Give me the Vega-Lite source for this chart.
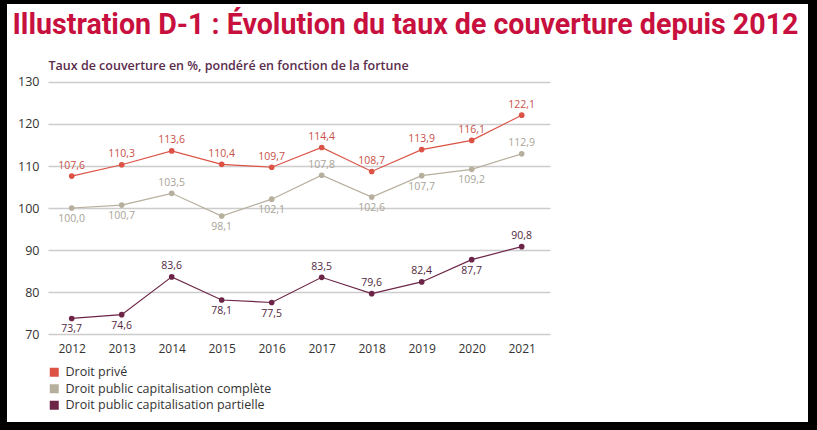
{
  "$schema": "https://vega.github.io/schema/vega-lite/v6.json",
  "autosize": {"type": "fit", "contains": "padding"},
  "width": 817,
  "height": 430,
  "padding": {"left": 7, "top": 4, "right": 9, "bottom": 8},
  "background": "#000000",
  "config": {
    "view": {"fill": "#ffffff", "stroke": null},
    "locale": {"number": {"decimal": ",", "thousands": " ", "grouping": [3], "currency": ["", ""]}},
    "font": "Open Sans"
  },
  "data": {
    "values": [
      {"year": 2012, "series": "Droit privé", "value": 107.6},
      {"year": 2013, "series": "Droit privé", "value": 110.3},
      {"year": 2014, "series": "Droit privé", "value": 113.6},
      {"year": 2015, "series": "Droit privé", "value": 110.4},
      {"year": 2016, "series": "Droit privé", "value": 109.7},
      {"year": 2017, "series": "Droit privé", "value": 114.4},
      {"year": 2018, "series": "Droit privé", "value": 108.7},
      {"year": 2019, "series": "Droit privé", "value": 113.9},
      {"year": 2020, "series": "Droit privé", "value": 116.1},
      {"year": 2021, "series": "Droit privé", "value": 122.1},
      {"year": 2012, "series": "Droit public capitalisation complète", "value": 100.0},
      {"year": 2013, "series": "Droit public capitalisation complète", "value": 100.7},
      {"year": 2014, "series": "Droit public capitalisation complète", "value": 103.5},
      {"year": 2015, "series": "Droit public capitalisation complète", "value": 98.1},
      {"year": 2016, "series": "Droit public capitalisation complète", "value": 102.1},
      {"year": 2017, "series": "Droit public capitalisation complète", "value": 107.8},
      {"year": 2018, "series": "Droit public capitalisation complète", "value": 102.6},
      {"year": 2019, "series": "Droit public capitalisation complète", "value": 107.7},
      {"year": 2020, "series": "Droit public capitalisation complète", "value": 109.2},
      {"year": 2021, "series": "Droit public capitalisation complète", "value": 112.9},
      {"year": 2012, "series": "Droit public capitalisation partielle", "value": 73.7},
      {"year": 2013, "series": "Droit public capitalisation partielle", "value": 74.6},
      {"year": 2014, "series": "Droit public capitalisation partielle", "value": 83.6},
      {"year": 2015, "series": "Droit public capitalisation partielle", "value": 78.1},
      {"year": 2016, "series": "Droit public capitalisation partielle", "value": 77.5},
      {"year": 2017, "series": "Droit public capitalisation partielle", "value": 83.5},
      {"year": 2018, "series": "Droit public capitalisation partielle", "value": 79.6},
      {"year": 2019, "series": "Droit public capitalisation partielle", "value": 82.4},
      {"year": 2020, "series": "Droit public capitalisation partielle", "value": 87.7},
      {"year": 2021, "series": "Droit public capitalisation partielle", "value": 90.8}
    ]
  },
  "encoding": {
    "x": {
      "field": "year",
      "type": "quantitative",
      "scale": {"domain": [2010.706, 2026.726], "nice": false, "zero": false},
      "axis": {
        "values": [2012, 2013, 2014, 2015, 2016, 2017, 2018, 2019, 2020, 2021],
        "format": "d",
        "offset": -88,
        "domain": false,
        "ticks": false,
        "grid": false,
        "labelPadding": 9,
        "labelFontSize": 12,
        "labelColor": "#333333",
        "title": "Illustration D-1 : Évolution du taux de couverture depuis 2012",
        "titleFont": "Roboto",
        "titleFontWeight": "bold",
        "titleFontSize": 28.6,
        "titleColor": "#c8103e",
        "titleAlign": "left",
        "titleAnchor": "start",
        "titleBaseline": "alphabetic",
        "titleX": 5,
        "titleY": -301
      }
    },
    "y": {
      "field": "value",
      "type": "quantitative",
      "scale": {"domain": [49.05, 148.57], "nice": false, "zero": false},
      "axis": {
        "values": [70, 80, 90, 100, 110, 120, 130],
        "offset": -41,
        "domain": false,
        "grid": false,
        "ticks": true,
        "tickSize": -502,
        "tickColor": "#cccccc",
        "tickWidth": 1.5,
        "labelPadding": 511,
        "labelFontSize": 12.5,
        "labelColor": "#333333",
        "title": "Taux de couverture en %, pondéré en fonction de la fortune",
        "titleAngle": 0,
        "titleAlign": "left",
        "titleBaseline": "alphabetic",
        "titleX": 0,
        "titleY": 65,
        "titleFontSize": 12.5,
        "titleFontWeight": 600,
        "titleColor": "#5a2d4d"
      }
    },
    "color": {
      "field": "series",
      "type": "nominal",
      "scale": {
        "domain": ["Droit privé", "Droit public capitalisation complète", "Droit public capitalisation partielle"],
        "range": ["#dc5346", "#b7af9e", "#6d2547"]
      },
      "legend": {
        "orient": "none",
        "legendX": 41,
        "legendY": 362,
        "title": null,
        "symbolType": "square",
        "symbolSize": 81,
        "symbolStrokeWidth": 0,
        "symbolOpacity": 1,
        "labelFontSize": 12.5,
        "labelColor": "#333333",
        "labelLimit": 400,
        "rowPadding": 3.5,
        "labelOffset": 5,
        "padding": 0
      }
    }
  },
  "layer": [
    {"mark": {"type": "line", "strokeWidth": 1.2}},
    {"mark": {"type": "circle", "size": 32, "opacity": 1}},
    {
      "transform": [{"filter": "datum.series == 'Droit privé' || (datum.series == 'Droit public capitalisation complète' && indexof([2014, 2017, 2021], datum.year) >= 0) || (datum.series == 'Droit public capitalisation partielle' && indexof([2014, 2017, 2018, 2019, 2021], datum.year) >= 0)"}],
      "mark": {"type": "text", "dy": -7.5, "baseline": "alphabetic", "fontSize": 10.5},
      "encoding": {
        "text": {"field": "value", "type": "quantitative", "format": ".1f"},
        "fill": {
          "field": "series",
          "type": "nominal",
          "scale": {
            "domain": ["Droit privé", "Droit public capitalisation complète", "Droit public capitalisation partielle"],
            "range": ["#c9504a", "#a8a397", "#52283d"]
          },
          "legend": null
        }
      }
    },
    {
      "transform": [{"filter": "!(datum.series == 'Droit privé' || (datum.series == 'Droit public capitalisation complète' && indexof([2014, 2017, 2021], datum.year) >= 0) || (datum.series == 'Droit public capitalisation partielle' && indexof([2014, 2017, 2018, 2019, 2021], datum.year) >= 0))"}],
      "mark": {"type": "text", "dy": 6, "baseline": "top", "fontSize": 10.5},
      "encoding": {
        "text": {"field": "value", "type": "quantitative", "format": ".1f"},
        "fill": {
          "field": "series",
          "type": "nominal",
          "scale": {
            "domain": ["Droit privé", "Droit public capitalisation complète", "Droit public capitalisation partielle"],
            "range": ["#c9504a", "#a8a397", "#52283d"]
          },
          "legend": null
        }
      }
    }
  ]
}
